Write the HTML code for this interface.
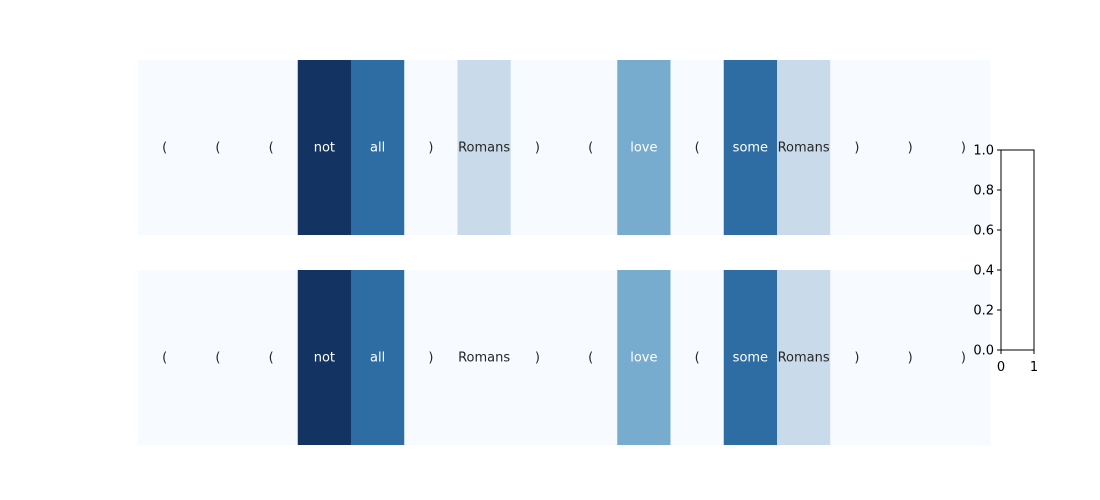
<!DOCTYPE html>
<html><head><meta charset="utf-8"><style>
html,body{margin:0;padding:0;background:#fff;overflow:hidden;font-family:"Liberation Sans","DejaVu Sans",sans-serif}
svg{display:block}
svg text{font-family:"DejaVu Sans","Liberation Sans",sans-serif;font-size:13px}
</style></head><body>
<svg id="c" width="1100" height="500"></svg>
<script>
const tokens=["(","(","(","not","all",")","Romans",")","(","love","(","some","Romans",")",")",")"];
const topValues=[0,0,0,1,0.75,0,0.25,0,0,0.5,0,0.75,0.25,0,0,0];
const bottomValues=[0,0,0,1,0.75,0,0,0,0,0.5,0,0.75,0.25,0,0,0];
const cbTicks=["0.0","0.2","0.4","0.6","0.8","1.0"];
const cbXTicks=["0","1"];
const stops=[[0,[247,251,255]],[0.25,[201,219,235]],[0.5,[119,172,206]],[0.75,[46,109,164]],[1,[19,52,98]]];
function color(v){for(let i=1;i<stops.length;i++){if(v<=stops[i][0]){const[a,ca]=stops[i-1],[b,cb]=stops[i];const t=(v-a)/(b-a);return`rgb(${ca.map((c,k)=>Math.round(c+(cb[k]-c)*t)).join(',')})`;}}return'rgb(19,52,98)';}
const svg=document.getElementById('c');const NS='http://www.w3.org/2000/svg';
function mk(t,a){const e=document.createElementNS(NS,t);for(const k in a)e.setAttribute(k,a[k]);svg.appendChild(e);return e;}
const x0=138,x1=990,cw=(x1-x0)/tokens.length;
function xScale(i){return x0+i*cw;}
function drawRow(vals,y,h,name){vals.forEach((v,i)=>{
 const r=mk('rect',{x:xScale(i),y:y,width:cw+0.5,height:h,fill:color(v)});
 
 
 const t=mk('text',{x:xScale(i)+cw/2,y:y+h/2+4,'text-anchor':'middle',fill:v>0.4?'#fff':'#262626'});
 t.textContent=tokens[i];
 
 
});}
drawRow(topValues,60,175,'top-row');
drawRow(bottomValues,270,175,'bottom-row');
const cb=mk('rect',{x:1001,y:150,width:33,height:200,fill:'#fff',stroke:'#000','stroke-width':1});


cbTicks.forEach((l,i)=>{const y=350-i*40;
 mk('line',{x1:997,x2:1001,y1:y,y2:y,stroke:'#000'});
 const t=mk('text',{x:994,y:y+4.5,'text-anchor':'end',fill:'#000'});t.textContent=l;
 
 });
cbXTicks.forEach((l,i)=>{const x=1001+i*33;
 mk('line',{x1:x,x2:x,y1:350,y2:354,stroke:'#000'});
 const t=mk('text',{x:x,y:371,'text-anchor':'middle',fill:'#000'});t.textContent=l;
 
 });
</script></body></html>
